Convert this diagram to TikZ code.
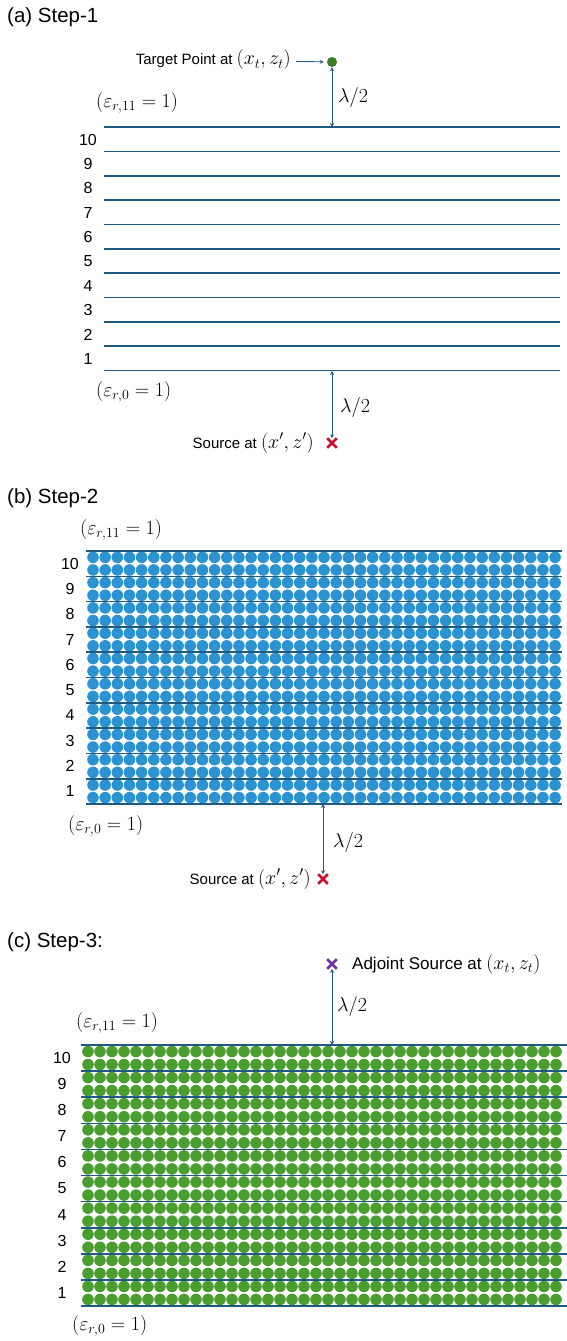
\RequirePackage{fix-cm}
\documentclass[tikz,border=0pt]{standalone}
\usepackage{fontspec}
\setmainfont{Liberation Sans}
\usetikzlibrary{arrows.meta,positioning,shapes.misc}
\definecolor{layerblue}{HTML}{1F5A82}
\definecolor{dotblue}{HTML}{2B93D1}
\definecolor{dotgreen}{HTML}{4A9E2F}
\definecolor{targetgreen}{HTML}{3B7D23}
\definecolor{srcred}{HTML}{C8102E}
\definecolor{adjpurple}{HTML}{7030A0}
\newcommand\mth[1]{{\fontsize{20}{23}\selectfont$#1$}}

\begin{document}
\begin{tikzpicture}[x=1pt,y=-1pt,
every node/.style={inner sep=0pt},
title/.style={anchor=west,font=\fontsize{20.5}{24}\selectfont},
lbl/.style={font=\fontsize{16}{18}\selectfont},
txt/.style={font=\fontsize{15}{18}\selectfont},
layer/.style={draw=layerblue,line width=1.6pt},
arr/.style={{Stealth[length=4pt,width=4pt]}-{Stealth[length=4pt,width=4pt]},draw=layerblue,line width=0.9pt},
pointer/.style={-{Stealth[length=4pt,width=4pt]},draw=layerblue,line width=0.9pt},
src/.style={cross out,draw=srcred,line width=2.6pt,minimum size=7pt},
adj/.style={cross out,draw=adjpurple,line width=2.6pt,minimum size=7pt},
tgt/.style={circle,fill=targetgreen,minimum size=10pt}
]
\useasboundingbox (0,0) rectangle (567,1341);

% (a) Step-1
\node[title] (ta) at (7,17) {(a) Step-1};
\foreach \i in {0,...,10} \draw[layer] (104,{127+24.35*\i}) -- (560,{127+24.35*\i});
\foreach \n in {1,...,10} \node[lbl] (a-l\n) at (88,{371-24.35*(\n-0.5)}) {\n};
\node[tgt] (a-tgt) at (332,62) {};
\node[txt,anchor=east] (a-tgttxt) at (291,60) {Target Point at \mth{(x_t,z_t)}};
\draw[pointer,shorten <=5pt,shorten >=3pt] (a-tgttxt) -- (a-tgt);
\coordinate (a-top) at (332,127);
\coordinate (a-bot) at (332,371);
\draw[arr] (a-tgt) -- (a-top);
\node[anchor=west] (a-lam1) at (338,97) {\mth{\lambda/2}};
\node[anchor=west] (a-eps11) at (96,103) {\mth{(\varepsilon_{r,11}=1)}};
\node[anchor=west] (a-eps0) at (96,392) {\mth{(\varepsilon_{r,0}=1)}};
\node[src] (a-src) at (332,443) {};
\node[txt,anchor=east] (a-srctxt) at (314,443) {Source at \mth{(x',z')}};
\draw[arr] (a-bot) -- (a-src);
\node[anchor=west] (a-lam2) at (340,407) {\mth{\lambda/2}};

% (b) Step-2
\node[title] (tb) at (7,498) {(b) Step-2};
\node[anchor=west] (b-eps11) at (80,530) {\mth{(\varepsilon_{r,11}=1)}};
\foreach \i in {0,...,19} \foreach \j in {0,...,38}
  \fill[dotblue] ({93+12.16*\j},{557.3+12.65*\i}) circle (5.8);
\foreach \i in {0,...,10} \draw[layer] (86,{551+25.3*\i}) -- (562,{551+25.3*\i});
\foreach \n in {1,...,10} \node[lbl] (b-l\n) at (70,{804-25.3*(\n-0.5)}) {\n};
\node[anchor=west] (b-eps0) at (68,826) {\mth{(\varepsilon_{r,0}=1)}};
\coordinate (b-bot) at (323,804);
\node[src] (b-src) at (323,879) {};
\node[txt,anchor=east] (b-srctxt) at (311,879) {Source at \mth{(x',z')}};
\draw[arr] (b-bot) -- (b-src);
\node[anchor=west] (b-lam) at (333,842) {\mth{\lambda/2}};

% (c) Step-3
\node[title] (tc) at (7,942) {(c) Step-3:};
\node[adj] (c-adj) at (332,964) {};
\node[txt,anchor=west,font=\fontsize{17}{20}\selectfont] (c-adjtxt) at (352,964) {Adjoint Source at \mth{(x_t,z_t)}};
\coordinate (c-top) at (332,1045);
\draw[arr] (c-adj) -- (c-top);
\node[anchor=west] (c-lam) at (337,1006) {\mth{\lambda/2}};
\node[anchor=west] (c-eps11) at (76,1023) {\mth{(\varepsilon_{r,11}=1)}};
\foreach \i in {0,...,19} \foreach \j in {0,...,39}
  \fill[dotgreen] ({88+12*\j},{1051.5+13.05*\i}) circle (5.8);
\foreach \i in {0,...,10} \draw[layer] (81,{1045+26.1*\i}) -- (567,{1045+26.1*\i});
\foreach \n in {1,...,10} \node[lbl] (c-l\n) at (62,{1306-26.1*(\n-0.5)}) {\n};
\node[anchor=west] (c-eps0) at (72,1326) {\mth{(\varepsilon_{r,0}=1)}};
\end{tikzpicture}
\end{document}
